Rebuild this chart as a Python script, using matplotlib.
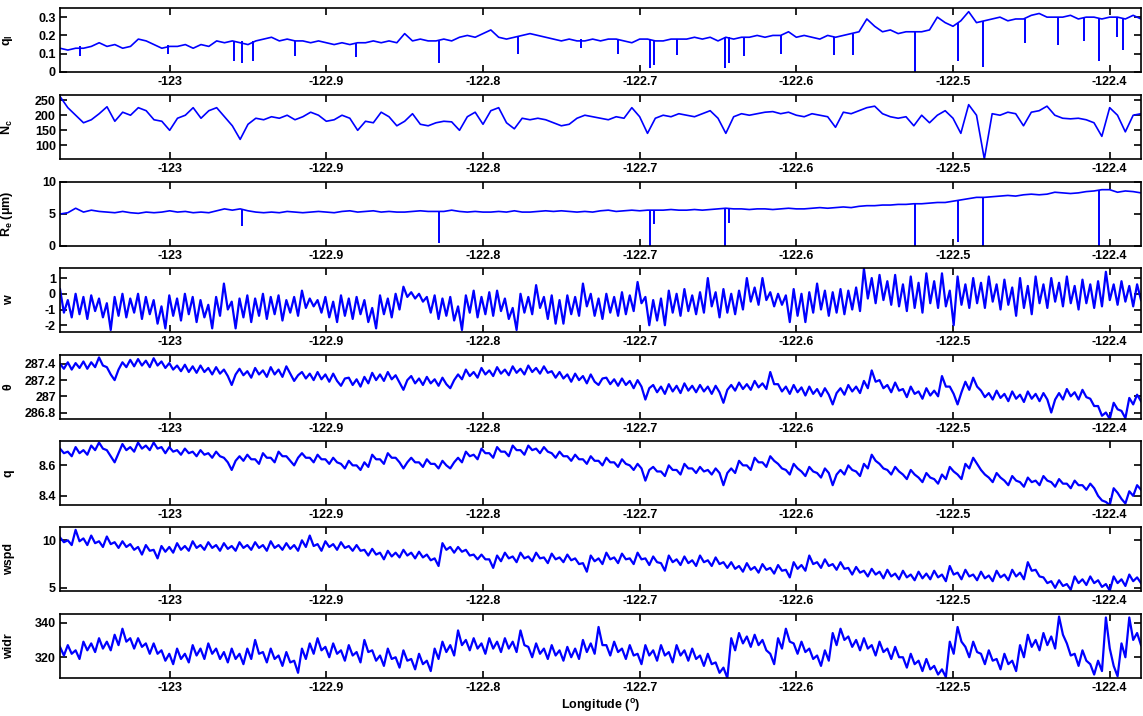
import numpy as np
import matplotlib
matplotlib.use('Agg')
import matplotlib.pyplot as plt
from matplotlib.ticker import FormatStrFormatter

plt.rcParams['font.family'] = ['Liberation Sans', 'DejaVu Sans']
plt.rcParams['font.weight'] = 'bold'
plt.rcParams['axes.unicode_minus'] = False
plt.rcParams['mathtext.fontset'] = 'custom'
plt.rcParams['mathtext.rm'] = 'Liberation Sans:bold'
plt.rcParams['mathtext.it'] = 'Liberation Sans:bold'
plt.rcParams['mathtext.bf'] = 'Liberation Sans:bold'
plt.rcParams['mathtext.default'] = 'bf'

# longitude span of the flight leg (samples evenly spaced along it)
lon_start = -123.07
lon_end = -122.38

# liquid water content, background trace
ql = [0.13, 0.12, 0.13, 0.13, 0.14, 0.16, 0.14, 0.15, 0.13, 0.14, 0.18, 0.17, 0.15, 0.13, 0.14,
      0.14, 0.15, 0.13, 0.15, 0.14, 0.17, 0.16, 0.17, 0.16, 0.15, 0.17, 0.18, 0.19, 0.17, 0.18,
      0.17, 0.17, 0.16, 0.17, 0.16, 0.15, 0.16, 0.15, 0.16, 0.16, 0.17, 0.16, 0.17, 0.16, 0.21,
      0.17, 0.18, 0.17, 0.17, 0.18, 0.17, 0.19, 0.20, 0.19, 0.21, 0.23, 0.19, 0.18, 0.19, 0.20,
      0.21, 0.20, 0.19, 0.18, 0.17, 0.18, 0.17, 0.17, 0.18, 0.17, 0.18, 0.18, 0.17, 0.16, 0.18,
      0.18, 0.17, 0.17, 0.18, 0.18, 0.18, 0.19, 0.18, 0.19, 0.17, 0.19, 0.18, 0.19, 0.19, 0.20,
      0.19, 0.20, 0.20, 0.22, 0.19, 0.20, 0.19, 0.18, 0.20, 0.19, 0.20, 0.21, 0.22, 0.29, 0.25,
      0.22, 0.23, 0.21, 0.22, 0.22, 0.22, 0.23, 0.30, 0.27, 0.25, 0.28, 0.33, 0.27, 0.28, 0.29,
      0.30, 0.28, 0.29, 0.29, 0.31, 0.32, 0.30, 0.30, 0.30, 0.31, 0.29, 0.30, 0.30, 0.29, 0.30,
      0.30, 0.29, 0.31, 0.29]
# narrow dropouts in ql: longitude, lowest value, level before the drop
ql_drop_lon = [-123.0571, -123.0012, -122.9587, -122.9538, -122.9465, -122.9198, -122.8809,
               -122.8279, -122.7776, -122.7373, -122.7137, -122.6936, -122.6906, -122.6759,
               -122.6453, -122.6429, -122.6335, -122.6099, -122.5757, -122.5639, -122.5245,
               -122.4967, -122.4807, -122.4542, -122.4330, -122.4165, -122.4066, -122.3953,
               -122.3917]
ql_drop_low = [0.09, 0.10, 0.06, 0.05, 0.06, 0.09, 0.08, 0.05, 0.10, 0.13, 0.10, 0.02, 0.04,
               0.095, 0.02, 0.05, 0.086, 0.10, 0.095, 0.095, 0.0, 0.06, 0.03, 0.16, 0.15, 0.17,
               0.06, 0.19, 0.12]
ql_drop_top = [0.14, 0.15, 0.17, 0.17, 0.17, 0.17, 0.16, 0.17, 0.19, 0.18, 0.18, 0.18, 0.17,
               0.18, 0.19, 0.19, 0.19, 0.20, 0.19, 0.21, 0.22, 0.27, 0.28, 0.29, 0.30, 0.30,
               0.29, 0.30, 0.29]

nc = [262, 225, 200, 175, 185, 205, 228, 180, 210, 200, 225, 215, 185, 180, 150,
      190, 200, 225, 190, 215, 225, 195, 165, 120, 170, 190, 185, 195, 190, 200,
      185, 195, 210, 200, 180, 185, 200, 190, 150, 180, 175, 210, 195, 165, 180,
      205, 170, 165, 175, 180, 178, 150, 195, 210, 170, 215, 225, 175, 155, 190,
      185, 190, 185, 175, 165, 170, 190, 200, 195, 190, 185, 195, 190, 225, 195,
      140, 190, 200, 195, 205, 200, 195, 205, 215, 190, 140, 195, 205, 200, 205,
      210, 212, 205, 210, 200, 195, 205, 200, 195, 160, 210, 205, 215, 225, 230,
      205, 195, 190, 195, 165, 200, 175, 200, 215, 190, 140, 235, 200, 55, 205,
      200, 210, 205, 165, 210, 215, 230, 200, 190, 188, 190, 185, 175, 130, 225,
      200, 145, 200, 205]

re = [5.0, 5.2, 5.9, 5.3, 5.6, 5.4, 5.3, 5.2, 5.4, 5.2, 5.1, 5.3, 5.2, 5.3, 5.5,
      5.3, 5.4, 5.2, 5.3, 5.2, 5.5, 5.8, 5.6, 5.8, 5.5, 5.3, 5.2, 5.3, 5.2, 5.4,
      5.3, 5.2, 5.3, 5.4, 5.3, 5.2, 5.4, 5.5, 5.3, 5.4, 5.5, 5.3, 5.4, 5.3, 5.3,
      5.4, 5.5, 5.4, 5.4, 5.4, 5.6, 5.4, 5.3, 5.4, 5.3, 5.3, 5.4, 5.3, 5.5, 5.3,
      5.3, 5.4, 5.5, 5.4, 5.5, 5.4, 5.3, 5.4, 5.3, 5.5, 5.6, 5.4, 5.5, 5.6, 5.5,
      5.6, 5.6, 5.6, 5.7, 5.6, 5.6, 5.7, 5.6, 5.7, 5.8, 5.9, 5.8, 5.8, 5.7, 5.8,
      5.8, 5.7, 5.8, 5.9, 5.8, 5.8, 5.9, 6.0, 5.9, 6.0, 6.1, 6.0, 6.2, 6.3, 6.3,
      6.4, 6.4, 6.5, 6.5, 6.6, 6.6, 6.7, 6.8, 6.8, 7.0, 7.2, 7.4, 7.6, 7.6, 7.7,
      7.8, 7.9, 7.8, 8.0, 8.1, 8.0, 8.1, 8.4, 8.3, 8.2, 8.3, 8.5, 8.6, 8.8, 8.8,
      8.4, 8.6, 8.5, 8.3]
re_drop_lon = [-122.9538, -122.8279, -122.6936, -122.6906, -122.6453, -122.6429,
               -122.5245, -122.4967, -122.4807, -122.4066]
re_drop_low = [3.1, 0.4, 0.0, 3.4, 0.0, 3.6, 0.0, 0.7, 0.0, 0.0]
re_drop_top = [5.8, 5.4, 5.6, 5.6, 5.8, 5.8, 6.6, 7.0, 7.6, 8.8]

w = [0.3, -1.2, -0.4, -1.5, 0.0, -1.3, -0.2, -1.6, -0.1, -1.1, -0.3, -1.5, -0.6, -2.3,
     -0.2, -1.4, 0.0, -1.5, -0.3, -1.2, 0.0, -1.6, -0.2, -1.3, -0.4, -1.9, -0.8, -2.2,
     -0.1, -1.4, -0.3, -1.7, 0.0, -1.3, -0.2, -1.8, -0.4, -1.5, -0.7, -2.2, -0.2, -1.4,
     0.65, -1.0, -0.5, -2.2, -0.3, -1.5, -0.1, -1.8, -0.3, -1.4, 0.0, -1.6, -0.2, -1.3,
     -0.1, -1.7, -0.4, -1.2, -0.2, -1.4, 0.2, -0.9, -0.3, -0.8, -0.4, -1.2, -0.2, -1.5,
     -0.5, -1.8, -0.1, -1.4, -0.3, -1.6, -0.2, -1.3, -0.4, -1.8, -0.9, -2.2, -0.1, -1.3,
     -0.3, -1.5, 0.0, -1.0, 0.45, -0.2, 0.1, -0.3, 0.0, -0.5, -0.2, -1.2, -0.1, -1.6,
     -0.3, -1.4, -0.2, -1.7, -0.8, -2.3, -0.1, -1.2, 0.2, -1.5, -0.2, -1.3, 0.1, -1.4,
     0.2, -1.1, -0.3, -1.6, -0.9, -2.3, 0.0, -1.2, -0.2, -1.3, 0.55, -0.9, -0.2, -1.6,
     -0.1, -1.9, -0.4, -1.9, -0.1, -1.3, -0.2, -1.4, 0.65, -0.8, 0.0, -1.4, -0.3, -1.6,
     0.0, -1.2, -0.2, -1.4, 0.1, -1.3, -0.1, -1.1, 0.75, -0.6, -0.2, -2.0, -0.4, -1.7,
     -0.3, -2.0, 0.2, -1.2, 0.0, -1.4, 0.3, -1.1, -0.1, -1.3, 0.1, -1.2, 1.0, -0.8,
     0.1, -1.5, 0.3, -1.2, 0.0, -1.3, 0.2, -1.0, 1.0, -0.5, 0.4, -0.7, 1.0, -0.4,
     0.1, -0.8, 0.0, -0.7, -0.1, -1.8, 0.3, -1.4, 0.0, -1.8, 0.1, -1.2, 0.65, -1.0,
     0.2, -1.4, 0.1, -1.2, 0.3, -1.3, 0.2, -1.0, 0.4, -1.1, 1.6, -0.3, 1.0, -0.6,
     1.2, -0.4, 0.8, -0.7, 1.2, -0.8, 0.6, -1.1, 1.1, -0.9, 0.7, -1.2, 1.3, -0.6,
     0.8, -0.9, 1.3, -0.8, 0.2, -2.0, 1.1, -0.7, 0.6, -0.9, 1.0, -0.6, 0.7, -0.9,
     1.1, -0.5, 0.6, -1.0, 0.9, -0.7, 0.4, -1.4, 1.0, -0.9, 0.5, -1.3, 1.1, -0.6,
     0.6, -0.9, 1.0, -0.5, 0.7, -0.8, 1.1, -0.6, 0.5, -1.0, 0.9, -0.6, 0.6, -0.9,
     0.8, -0.8, 1.4, -0.4, 0.6, -0.7, 0.8, -0.5, 0.5, -0.8, 0.6, -0.4]

theta = [287.40, 287.34, 287.42, 287.33, 287.41, 287.35, 287.43, 287.34, 287.42, 287.36,
         287.48, 287.38, 287.36, 287.27, 287.20, 287.33, 287.42, 287.36, 287.45, 287.37,
         287.46, 287.38, 287.44, 287.36, 287.47, 287.38, 287.43, 287.35, 287.41, 287.33,
         287.38, 287.31, 287.39, 287.30, 287.37, 287.29, 287.38, 287.30, 287.35, 287.27,
         287.36, 287.28, 287.33, 287.25, 287.14, 287.27, 287.34, 287.26, 287.31, 287.23,
         287.35, 287.27, 287.32, 287.24, 287.36, 287.27, 287.33, 287.24, 287.37, 287.28,
         287.19, 287.26, 287.30, 287.22, 287.28, 287.20, 287.30, 287.21, 287.27, 287.18,
         287.28, 287.19, 287.13, 287.22, 287.23, 287.14, 287.21, 287.12, 287.24, 287.16,
         287.29, 287.20, 287.27, 287.19, 287.30, 287.21, 287.26, 287.17, 287.08, 287.20,
         287.25, 287.16, 287.22, 287.14, 287.24, 287.16, 287.21, 287.13, 287.23, 287.15,
         287.10, 287.20, 287.27, 287.21, 287.33, 287.25, 287.30, 287.23, 287.35, 287.27,
         287.32, 287.25, 287.36, 287.28, 287.33, 287.26, 287.37, 287.29, 287.34, 287.27,
         287.38, 287.30, 287.35, 287.28, 287.37, 287.29, 287.31, 287.23, 287.30, 287.22,
         287.27, 287.18, 287.28, 287.20, 287.25, 287.16, 287.27, 287.18, 287.14, 287.22,
         287.23, 287.15, 287.21, 287.13, 287.22, 287.14, 287.19, 287.10, 287.20, 287.12,
         286.96, 287.10, 287.14, 287.05, 287.12, 287.03, 287.15, 287.06, 287.13, 287.04,
         287.16, 287.07, 287.13, 287.05, 287.14, 287.06, 287.12, 287.03, 287.13, 287.05,
         286.92, 287.08, 287.14, 287.07, 287.17, 287.09, 287.15, 287.08, 287.19, 287.11,
         287.16, 287.09, 287.30, 287.15, 287.15, 287.06, 287.12, 287.03, 287.14, 287.05,
         287.11, 287.01, 287.12, 287.03, 287.09, 287.00, 287.10, 287.02, 286.90, 287.04,
         287.10, 287.02, 287.14, 287.06, 287.12, 287.04, 287.19, 287.10, 287.32, 287.18,
         287.20, 287.10, 287.14, 287.05, 287.17, 287.07, 287.09, 286.99, 287.12, 287.03,
         287.06, 286.97, 287.10, 287.01, 287.07, 287.00, 287.25, 287.12, 287.12, 287.03,
         286.90, 287.05, 287.18, 287.08, 287.23, 287.12, 287.07, 286.99, 287.04, 286.96,
         287.07, 286.98, 287.03, 286.94, 287.06, 286.97, 287.02, 286.93, 287.06, 286.97,
         287.03, 286.94, 287.04, 286.96, 286.80, 286.96, 287.04, 286.96, 287.09, 287.00,
         287.05, 286.96, 287.08, 286.99, 286.97, 286.88, 286.88, 286.76, 286.80, 286.72,
         286.92, 286.84, 286.82, 286.73, 286.98, 286.90, 287.02, 286.94]

q = [8.71, 8.68, 8.69, 8.66, 8.72, 8.68, 8.70, 8.67, 8.73, 8.70, 8.75, 8.71, 8.70, 8.66,
     8.62, 8.68, 8.74, 8.70, 8.72, 8.69, 8.75, 8.71, 8.73, 8.70, 8.75, 8.71, 8.72, 8.68,
     8.72, 8.69, 8.70, 8.67, 8.71, 8.68, 8.69, 8.66, 8.70, 8.67, 8.68, 8.65, 8.69, 8.66,
     8.65, 8.62, 8.57, 8.63, 8.66, 8.63, 8.67, 8.64, 8.64, 8.61, 8.68, 8.65, 8.65, 8.62,
     8.69, 8.66, 8.66, 8.63, 8.60, 8.65, 8.68, 8.65, 8.65, 8.62, 8.67, 8.64, 8.64, 8.61,
     8.65, 8.62, 8.61, 8.58, 8.63, 8.60, 8.60, 8.57, 8.62, 8.59, 8.67, 8.64, 8.64, 8.61,
     8.68, 8.65, 8.65, 8.62, 8.58, 8.62, 8.65, 8.62, 8.62, 8.59, 8.64, 8.61, 8.61, 8.58,
     8.63, 8.60, 8.58, 8.62, 8.65, 8.62, 8.69, 8.66, 8.67, 8.64, 8.71, 8.68, 8.68, 8.65,
     8.72, 8.69, 8.69, 8.66, 8.73, 8.70, 8.70, 8.67, 8.73, 8.70, 8.71, 8.68, 8.72, 8.69,
     8.68, 8.65, 8.69, 8.66, 8.66, 8.63, 8.67, 8.64, 8.64, 8.61, 8.66, 8.63, 8.63, 8.60,
     8.65, 8.62, 8.62, 8.59, 8.64, 8.61, 8.60, 8.57, 8.61, 8.58, 8.50, 8.57, 8.59, 8.56,
     8.56, 8.53, 8.60, 8.57, 8.57, 8.54, 8.61, 8.58, 8.58, 8.55, 8.59, 8.56, 8.57, 8.54,
     8.58, 8.55, 8.47, 8.55, 8.58, 8.55, 8.63, 8.60, 8.60, 8.57, 8.65, 8.62, 8.62, 8.59,
     8.66, 8.63, 8.61, 8.58, 8.57, 8.54, 8.61, 8.58, 8.56, 8.53, 8.59, 8.56, 8.55, 8.52,
     8.58, 8.55, 8.47, 8.54, 8.57, 8.54, 8.60, 8.57, 8.56, 8.53, 8.61, 8.58, 8.67, 8.63,
     8.61, 8.58, 8.57, 8.54, 8.59, 8.56, 8.54, 8.51, 8.57, 8.54, 8.52, 8.49, 8.55, 8.52,
     8.51, 8.48, 8.54, 8.51, 8.59, 8.56, 8.54, 8.51, 8.61, 8.58, 8.65, 8.61, 8.57, 8.54,
     8.52, 8.49, 8.55, 8.52, 8.50, 8.47, 8.53, 8.50, 8.49, 8.46, 8.52, 8.49, 8.50, 8.47,
     8.53, 8.50, 8.49, 8.46, 8.51, 8.48, 8.48, 8.45, 8.50, 8.47, 8.47, 8.44, 8.48, 8.45,
     8.40, 8.37, 8.36, 8.34, 8.45, 8.42, 8.38, 8.35, 8.43, 8.40, 8.47, 8.44]

wspd = [10.3, 9.8, 10.0, 9.5, 11.1, 9.9, 10.2, 9.5, 10.5, 9.7, 9.9, 9.3, 10.4, 9.6,
        9.8, 9.2, 9.9, 9.3, 9.6, 9.0, 9.3, 8.5, 9.5, 8.9, 9.0, 8.1, 9.4, 8.8,
        9.3, 8.7, 9.7, 9.0, 9.4, 8.9, 9.9, 9.2, 9.5, 9.0, 9.8, 9.2, 9.5, 8.9,
        9.7, 9.1, 9.4, 8.9, 9.8, 9.2, 9.5, 9.0, 9.8, 9.2, 9.5, 8.9, 9.9, 9.2,
        9.5, 9.0, 9.7, 9.1, 9.5, 8.9, 10.0, 9.3, 10.5, 9.4, 9.6, 8.9, 9.9, 9.3,
        9.6, 9.0, 9.8, 9.2, 9.4, 8.9, 9.5, 8.9, 9.0, 8.4, 9.1, 8.5, 8.7, 8.0,
        8.9, 8.3, 8.7, 8.2, 9.0, 8.4, 8.7, 8.1, 8.8, 8.2, 8.5, 7.9, 8.1, 7.3,
        9.7, 9.0, 9.3, 8.7, 9.3, 8.8, 9.0, 8.4, 8.5, 8.0, 8.5, 8.0, 8.0, 7.1,
        8.4, 7.8, 8.7, 8.1, 8.3, 7.7, 8.7, 8.1, 8.3, 7.8, 8.7, 8.1, 8.2, 7.6,
        8.6, 8.0, 8.2, 7.7, 8.5, 7.9, 8.1, 7.5, 7.6, 6.7, 8.4, 7.8, 8.1, 7.5,
        8.7, 8.0, 8.2, 7.6, 8.6, 8.0, 8.1, 7.5, 8.7, 8.0, 8.1, 7.4, 8.3, 7.7,
        7.6, 6.8, 8.4, 7.7, 8.0, 7.4, 8.3, 7.6, 7.9, 7.3, 8.4, 7.7, 7.9, 7.3,
        8.2, 7.5, 7.7, 7.1, 7.7, 7.0, 7.3, 6.7, 7.6, 6.9, 7.2, 6.6, 7.5, 6.9,
        7.1, 6.5, 7.4, 6.8, 6.9, 6.1, 7.7, 7.0, 7.4, 6.8, 8.4, 7.5, 7.7, 7.1,
        8.0, 7.3, 7.5, 6.9, 7.7, 7.0, 7.1, 6.4, 7.2, 6.6, 6.8, 6.2, 7.0, 6.4,
        6.7, 6.0, 6.9, 6.2, 6.5, 5.9, 6.8, 6.1, 6.4, 5.8, 6.7, 6.0, 6.5, 5.9,
        6.8, 6.1, 6.4, 5.7, 7.3, 6.4, 6.6, 5.9, 6.9, 6.2, 6.4, 5.8, 6.7, 6.0,
        6.3, 5.7, 6.8, 6.1, 6.4, 5.8, 6.9, 6.2, 6.6, 5.9, 7.7, 6.8, 6.9, 6.2,
        6.1, 5.5, 5.7, 5.0, 5.8, 5.2, 5.4, 4.8, 6.2, 5.5, 5.9, 5.3, 6.2, 5.5,
        5.8, 5.1, 5.4, 4.7, 6.2, 5.5, 5.9, 5.2, 6.4, 5.7, 6.1, 5.5]

widr = [326, 321, 327, 322, 324, 319, 329, 324, 328, 323, 331, 325, 329, 324,
        333, 327, 336.5, 329, 331, 325, 331, 326, 328, 322, 328, 322, 324, 318,
        322, 316, 325, 319, 322, 317, 327, 321, 325, 319, 328, 322, 325, 319,
        323, 317, 325, 319, 322, 316, 325, 319, 330, 322, 323, 317, 325, 319,
        321, 315, 323, 317, 318, 311, 325, 319, 328, 322, 331, 324, 326, 320,
        328, 322, 324, 318, 327, 321, 323, 317, 330, 323, 324, 318, 321, 315,
        325, 319, 320, 314, 324, 318, 319, 313, 322, 316, 318, 312, 325, 319,
        329, 323, 327, 321, 335.5, 327, 330, 324, 331, 325, 328, 322, 331, 325,
        329, 323, 331, 325, 329, 323, 335.5, 327, 326, 320, 328, 322, 325, 319,
        327, 321, 324, 318, 326, 320, 325, 319, 330, 323, 328, 322, 337.5, 327,
        327, 321, 329, 323, 325, 319, 327, 321, 322, 316, 327, 321, 324, 318,
        327, 321, 323, 317, 327, 321, 324, 318, 325, 319, 321, 315, 322, 316,
        317, 311, 314, 308, 331, 324, 334, 328, 332, 326, 333, 327, 330, 324,
        322, 316, 331, 325, 336.5, 329, 328, 322, 329, 323, 325, 319, 321, 315,
        324, 318, 334, 327, 336.5, 330, 332, 326, 330, 324, 331, 325, 327, 321,
        329, 323, 325, 319, 326, 320, 320, 314, 322, 316, 318, 312, 319, 313,
        315, 310, 313, 308.5, 329, 322, 337.5, 329, 326, 320, 329, 323, 322, 316,
        324, 318, 319, 313, 322, 316, 318, 312, 327, 320, 333, 326, 330, 324,
        334, 327, 332, 325, 343.5, 333, 328, 321, 322, 315, 324, 318, 316, 310,
        318, 312, 343, 325, 315, 309, 328, 320, 343, 330, 334, 327]

series = [ql, nc, re, w, theta, q, wspd, widr]
drops = {0: (ql_drop_lon, ql_drop_low, ql_drop_top),
         2: (re_drop_lon, re_drop_low, re_drop_top)}
ylabels = ['q$_l$', 'N$_c$', 'R$_e$ (\u03bcm)', 'w', '\u03b8', 'q', 'wspd', 'widr']
ylims = [(0, 0.35), (55, 267), (0, 10), (-2.43, 1.64), (286.72, 287.51),
         (8.34, 8.76), (4.67, 11.4), (308, 345)]
yticks = [[0, 0.1, 0.2, 0.3], [100, 150, 200, 250], [0, 5, 10], [-2, -1, 0, 1],
          [286.8, 287, 287.2, 287.4], [8.4, 8.6], [5, 10], [320, 340]]
xticks = [-123, -122.9, -122.8, -122.7, -122.6, -122.5, -122.4]

W, H = 1143, 716
fig = plt.figure(figsize=(W / 100, H / 100), dpi=100)
tops = [8, 95, 182, 268, 355, 441, 527, 614]
ph = 64
left, right = 60, 1141

for i, vals in enumerate(series):
    ax = fig.add_axes([left / W, 1 - (tops[i] + ph) / H, (right - left) / W, ph / H])
    x = np.linspace(lon_start, lon_end, len(vals))
    # the densely sampled panels are drawn heavier so the noise reads as a band
    ax.plot(x, vals, color='#0000ff', lw=1.6 if i >= 3 else 1.2)
    if i in drops:
        dl, lo, hi = drops[i]
        ax.vlines(dl, lo, hi, color='#0000ff', lw=1.4)
    ax.set_xlim(lon_start, lon_end)
    ax.set_ylim(*ylims[i])
    ax.set_xticks(xticks)
    ax.set_yticks(yticks[i])
    ax.xaxis.set_major_formatter(FormatStrFormatter('%g'))
    ax.yaxis.set_major_formatter(FormatStrFormatter('%g'))
    ax.tick_params(direction='in', top=True, right=True, length=5, width=1.2,
                   labelsize=9, pad=3)
    for lab in ax.get_xticklabels() + ax.get_yticklabels():
        lab.set_fontweight('bold')
    for sp in ax.spines.values():
        sp.set_linewidth(1.2)
    ax.set_ylabel(ylabels[i], fontsize=9, fontweight='bold')
    ax.yaxis.set_label_coords(-0.042, 0.5)

fig.text(0.5 * (left + right) / W, 1 - 705 / H, 'Longitude ($^o$)', ha='center', va='center',
         fontsize=9, fontweight='bold')

fig.savefig('out.png', dpi=100)
